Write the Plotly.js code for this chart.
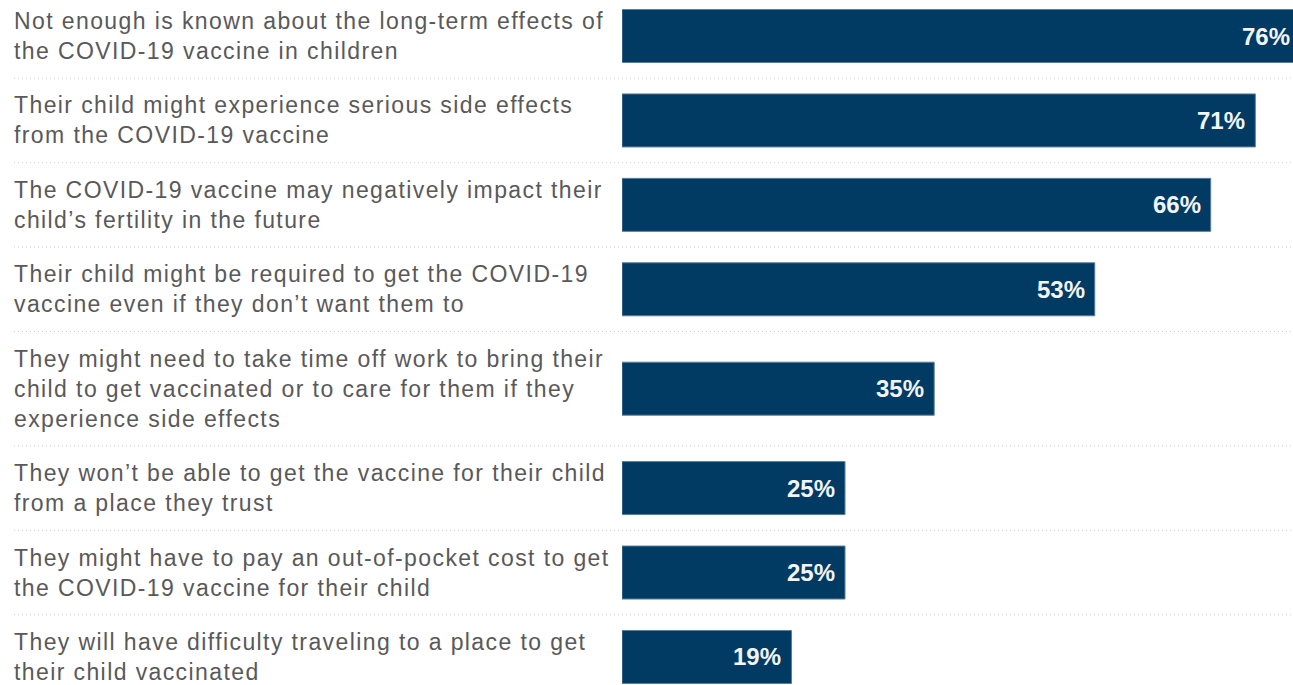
<!DOCTYPE html>
<html>
<head>
<meta charset="utf-8">
<script src="https://cdn.plot.ly/plotly-3.0.1.min.js"></script>
<style>
html,body{margin:0;padding:0;overflow:hidden;background:#fff;}
#chart{width:1301px;height:685px;}
#chart .annotation.cat-label .annotation-text{letter-spacing:1.4px;}
</style>
</head>
<body>
<div id="chart"></div>
<script>
// ---- data ----
const categories = [
  "Not enough is known about the long-term effects of<br>the COVID-19 vaccine in children",
  "Their child might experience serious side effects<br>from the COVID-19 vaccine",
  "The COVID-19 vaccine may negatively impact their<br>child’s fertility in the future",
  "Their child might be required to get the COVID-19<br>vaccine even if they don’t want them to",
  "They might need to take time off work to bring their<br>child to get vaccinated or to care for them if they<br>experience side effects",
  "They won’t be able to get the vaccine for their child<br>from a place they trust",
  "They might have to pay an out-of-pocket cost to get<br>the COVID-19 vaccine for their child",
  "They will have difficulty traveling to a place to get<br>their child vaccinated"
];
const values = [76, 71, 66, 53, 35, 25, 25, 19];
const valueLabels = values.map(v => v + "%");

// ---- layout helpers (row heights depend on label line count) ----
const plotLeft = 622, divW = 1301, divH = 685;
const plotW = divW - plotLeft;
const pxPerPct = 8.92;
const pxPerUnit = 29.94;
const rowPad = 0.82;

const lines = categories.map(c => c.split("<br>").length);
const heights = lines.map(n => n + rowPad);
const centers = [];
let acc = 0;
heights.forEach((h, i) => { centers.push(acc + h / 2); acc += h; });
const boundaries = [];
for (let i = 0; i < heights.length - 1; i++) boundaries.push(centers[i] + heights[i] / 2);

const topUnit = centers[0] - 36 / pxPerUnit;
const bottomUnit = topUnit + divH / pxPerUnit;

const trace = {
  type: "bar",
  orientation: "h",
  x: values,
  y: centers,
  width: 53 / pxPerUnit,
  marker: {color: "#013a63", line: {color: "#5b7e9c", width: 1}},
  hoverinfo: "skip",
  cliponaxis: true
};

const catAnnotations = categories.map((c, i) => ({
  xref: "paper", yref: "y",
  x: (12 - plotLeft) / plotW, y: centers[i],
  xanchor: "left", yanchor: "middle", align: "left",
  text: c, showarrow: false,
  font: {family: "Liberation Sans, Arial, sans-serif", size: 23, color: "#595959"}
}));

const valAnnotations = values.map((v, i) => ({
  xref: "x", yref: "y",
  x: v, y: centers[i],
  xanchor: "right", yanchor: "middle", xshift: -8,
  text: valueLabels[i], showarrow: false,
  font: {family: "Liberation Sans, Arial, sans-serif", size: 24, color: "#f2f4f6", weight: "bold"}
}));

const shapes = boundaries.map(b => ({
  type: "line", xref: "paper", yref: "y",
  x0: (14 - plotLeft) / plotW, x1: 1, y0: b, y1: b,
  line: {color: "#cfcfcf", width: 1, dash: "1px,3px"}
}));

const layout = {
  width: divW, height: divH,
  margin: {l: plotLeft, r: 0, t: 0, b: 0, pad: 0},
  paper_bgcolor: "#fff", plot_bgcolor: "#fff",
  showlegend: false,
  xaxis: {range: [0, plotW / pxPerPct], visible: false, fixedrange: true},
  yaxis: {range: [bottomUnit, topUnit], visible: false, fixedrange: true},
  annotations: catAnnotations.concat(valAnnotations),
  shapes: shapes,
  bargap: 0
};

Plotly.newPlot("chart", [trace], layout, {displayModeBar: false, staticPlot: true}).then(gd => {
  // tag category-label annotations so the letter-spacing rule only applies to them
  const nodes = gd.querySelectorAll(".annotation");
  nodes.forEach((n, i) => { if (i < categories.length) n.classList.add("cat-label"); });
});
</script>
</body>
</html>
